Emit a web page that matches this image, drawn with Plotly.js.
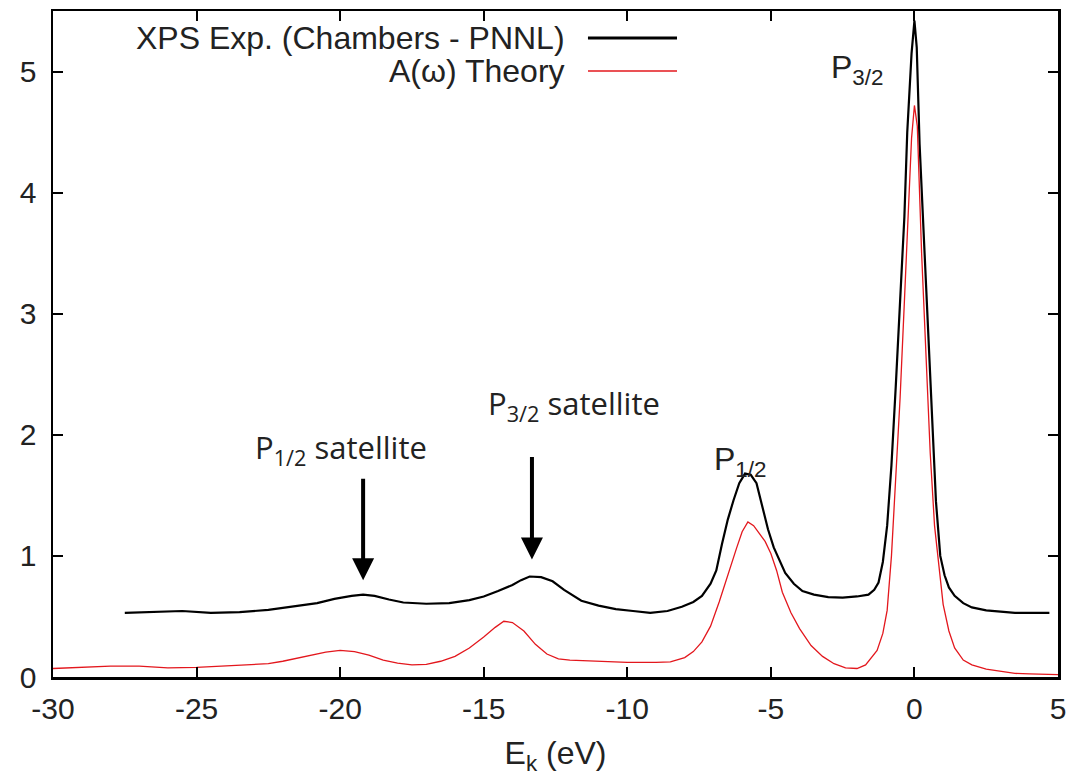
<!DOCTYPE html>
<html>
<head>
<meta charset="utf-8">
<script src="https://cdn.plot.ly/plotly-3.0.1.min.js"></script>
<style>html,body{margin:0;padding:0;background:#fff;}#chart{width:1072px;height:776px;}</style>
</head>
<body>
<div id="chart"></div>
<script>
// XPS experiment (Chambers - PNNL)
const expX = [-27.5,-26.5,-25.5,-24.5,-23.5,-22.5,-21.5,-20.8,-20.2,-19.6,-19.2,-18.8,-18.3,-17.8,-17,-16.2,-15.5,-15,-14.5,-14,-13.7,-13.4,-13.0,-12.6,-12.2,-11.6,-11,-10.4,-9.8,-9.2,-8.6,-8.1,-7.7,-7.4,-7.1,-6.9,-6.7,-6.5,-6.3,-6.1,-5.9,-5.7,-5.5,-5.3,-5.1,-4.9,-4.7,-4.5,-4.2,-3.9,-3.5,-3.0,-2.5,-2.0,-1.6,-1.4,-1.25,-1.1,-0.95,-0.8,-0.65,-0.5,-0.35,-0.25,-0.1,0.0,0.08,0.18,0.3,0.45,0.6,0.75,0.9,1.05,1.2,1.4,1.7,2.0,2.5,3.0,3.5,4.0,4.7];
const expY = [0.53,0.54,0.545,0.53,0.535,0.555,0.585,0.61,0.645,0.67,0.68,0.67,0.64,0.615,0.605,0.61,0.635,0.665,0.71,0.76,0.80,0.83,0.825,0.79,0.72,0.63,0.59,0.56,0.545,0.53,0.545,0.58,0.62,0.67,0.77,0.88,1.10,1.30,1.46,1.60,1.68,1.67,1.60,1.42,1.22,1.07,0.96,0.86,0.77,0.71,0.68,0.66,0.655,0.665,0.68,0.72,0.78,0.95,1.25,1.75,2.4,3.1,3.8,4.5,5.15,5.42,5.2,4.4,3.8,2.95,2.2,1.45,1.0,0.84,0.74,0.67,0.61,0.575,0.55,0.54,0.53,0.53,0.53];

// A(omega) theory
const thX = [-30,-29,-28,-27,-26,-25,-24,-23,-22.5,-22,-21.5,-21,-20.5,-20,-19.5,-19,-18.5,-18,-17.5,-17,-16.5,-16,-15.5,-15,-14.6,-14.3,-14.0,-13.6,-13.2,-12.8,-12.4,-12,-11,-10,-9,-8.5,-8,-7.7,-7.4,-7.1,-6.8,-6.5,-6.2,-6.0,-5.8,-5.6,-5.4,-5.2,-5.0,-4.8,-4.6,-4.3,-4.0,-3.6,-3.2,-2.8,-2.4,-2.0,-1.7,-1.5,-1.3,-1.1,-0.95,-0.8,-0.65,-0.5,-0.35,-0.2,-0.1,0.0,0.1,0.25,0.4,0.55,0.7,0.85,1.0,1.2,1.4,1.7,2.0,2.5,3.0,3.5,4.0,4.5,5.0];
const thY = [0.07,0.08,0.09,0.09,0.075,0.08,0.09,0.10,0.11,0.13,0.155,0.18,0.205,0.22,0.21,0.18,0.14,0.115,0.10,0.105,0.13,0.17,0.24,0.33,0.41,0.46,0.45,0.38,0.27,0.19,0.15,0.14,0.13,0.12,0.12,0.125,0.16,0.21,0.29,0.42,0.62,0.85,1.06,1.20,1.28,1.25,1.18,1.12,1.02,0.88,0.70,0.53,0.40,0.26,0.17,0.11,0.075,0.07,0.10,0.16,0.22,0.36,0.55,1.0,1.6,2.3,3.1,3.9,4.45,4.72,4.55,3.5,2.6,1.85,1.25,0.95,0.6,0.38,0.24,0.14,0.10,0.065,0.045,0.03,0.025,0.02,0.02];

const seriesNames = ["XPS Exp. (Chambers - PNNL)", "A(\u03c9) Theory"];
const xTickVals = [-30,-25,-20,-15,-10,-5,0,5];
const xTickText = ["-30","-25","-20","-15","-10","-5","0","5"];
const yTickVals = [0,1,2,3,4,5];
const yTickText = ["0","1","2","3","4","5"];

const BLACK = '#000000', RED = '#e3171d';
const textFont = {family: 'Liberation Sans, Arial, sans-serif', size: 30, color: '#222'};
const legendFont = {family: 'Liberation Sans, Arial, sans-serif', size: 32, color: '#222'};
const satFont = {family: 'Open Sans, sans-serif', size: 31, color: '#222'};

const traces = [
  {x: expX, y: expY, type: 'scatter', mode: 'lines', name: seriesNames[0], line: {color: BLACK, width: 2.2}},
  {x: thX, y: thY, type: 'scatter', mode: 'lines', name: seriesNames[1], line: {color: RED, width: 1.3}}
];

const axisCommon = {
  showgrid: false, zeroline: false, showline: true, linecolor: '#000', linewidth: 2.5,
  mirror: 'ticks', ticks: 'inside', ticklen: 10, tickwidth: 2, tickcolor: '#000',
  tickfont: textFont
};

const layout = {
  width: 1072, height: 776,
  margin: {l: 53, r: 14, t: 11, b: 99},
  paper_bgcolor: '#fff', plot_bgcolor: '#fff',
  showlegend: false,
  xaxis: Object.assign({}, axisCommon, {
    range: [-30, 5], tickmode: 'array', tickvals: xTickVals, ticktext: xTickText, ticklabelstandoff: 3,
    title: {text: 'E<sub>k</sub> (eV)', font: legendFont, standoff: 21}
  }),
  yaxis: Object.assign({}, axisCommon, {
    range: [0, 5.5], tickmode: 'array', tickvals: yTickVals, ticktext: yTickText, ticklabelstandoff: 8
  }),
  shapes: [
    {type: 'line', xref: 'paper', yref: 'paper', x0: 0.5323, x1: 0.6209, y0: 0.9595, y1: 0.9595, line: {color: BLACK, width: 3}},
    {type: 'line', xref: 'paper', yref: 'paper', x0: 0.5323, x1: 0.6209, y0: 0.9099, y1: 0.9099, line: {color: RED, width: 1.5}}
  ],
  annotations: [
    {xref: 'paper', yref: 'paper', x: 0.5114, y: 0.9595, xanchor: 'right', yanchor: 'middle', text: seriesNames[0], showarrow: false, font: legendFont},
    {xref: 'paper', yref: 'paper', x: 0.5114, y: 0.9099, xanchor: 'right', yanchor: 'middle', text: seriesNames[1], showarrow: false, font: legendFont},
    {x: -2.0, y: 5.02, text: 'P<sub>3/2</sub>', showarrow: false, font: legendFont},
    {x: -6.07, y: 1.78, text: 'P<sub>1/2</sub>', showarrow: false, font: legendFont},
    {x: -19.97, y: 1.88, text: 'P<sub>1/2</sub> satellite', showarrow: false, font: satFont},
    {x: -11.85, y: 2.25, text: 'P<sub>3/2</sub> satellite', showarrow: false, font: satFont},
    {x: -19.2, y: 0.80, ax: -19.2, ay: 1.65, axref: 'x', ayref: 'y', text: '', showarrow: true, arrowhead: 2, arrowsize: 1.1, arrowwidth: 4, arrowcolor: '#000', standoff: 0},
    {x: -13.32, y: 0.97, ax: -13.32, ay: 1.83, axref: 'x', ayref: 'y', text: '', showarrow: true, arrowhead: 2, arrowsize: 1.1, arrowwidth: 4, arrowcolor: '#000', standoff: 0}
  ]
};

Plotly.newPlot('chart', traces, layout, {displayModeBar: false, staticPlot: true});
</script>
</body>
</html>
